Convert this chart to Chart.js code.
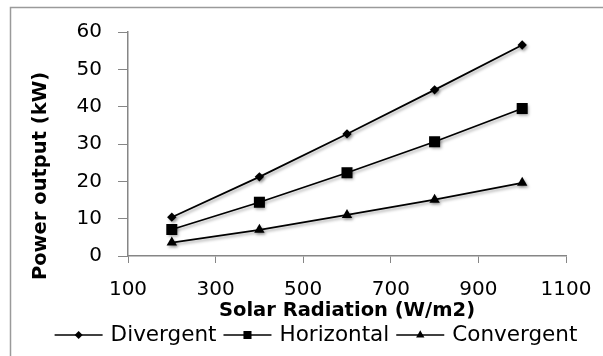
<!DOCTYPE html>
<html>
<head>
<meta charset="utf-8">
<title>Power output vs solar radiation</title>
<script src="https://cdn.jsdelivr.net/npm/chart.js@4.4.0/dist/chart.umd.min.js"></script>
<style>
  html, body { margin: 0; padding: 0; background: #fff; }
  #wrap { width: 603px; height: 356px; }
</style>
</head>
<body>
<div id="wrap"><canvas id="powerChart" width="603" height="356"></canvas></div>
<script>
// --- Data ---
const radiation = [200, 400, 600, 800, 1000];
const divergent = [10.4, 21.2, 32.7, 44.5, 56.5];
const horizontal = [7.1, 14.4, 22.3, 30.6, 39.5];
const convergent = [3.6, 7.0, 11.0, 15.1, 19.6];
const xTicks = [100, 300, 500, 700, 900, 1100];
const yTicks = [0, 10, 20, 30, 40, 50, 60];

const xTitle = 'Solar Radiation (W/m2)';
const yTitle = 'Power output (kW)';

// --- Styling ---
const FONT = 'DejaVu Sans';
const AXIS_GREY = '#868686';
const tickFont = { family: FONT, size: 20 };
const titleFont = { family: FONT, size: 19.5, weight: 'bold' };
const legendFont = `21.5px "${FONT}"`;

const toPoints = (ys) => radiation.map((x, i) => ({ x: x, y: ys[i] }));

function series(label, ys, pointStyle, radius, legendRadius) {
    return {
        label: label,
        data: toPoints(ys),
        showLine: true,
        borderColor: '#000',
        backgroundColor: '#000',
        borderWidth: 1.75,
        pointStyle: pointStyle,
        pointRadius: radius,
        pointHoverRadius: radius,
        pointBorderWidth: 0,
        legendRadius: legendRadius
    };
}

// Outer frame behind the chart
const framePlugin = {
    id: 'frame',
    beforeDraw(chart) {
        const ctx = chart.ctx;
        ctx.save();
        ctx.fillStyle = '#fff';
        ctx.fillRect(0, 0, chart.width, chart.height);
        ctx.strokeStyle = '#9a9a9a';
        ctx.lineWidth = 1.5;
        ctx.beginPath();
        ctx.moveTo(10.5, chart.height);
        ctx.lineTo(10.5, 7.5);
        ctx.lineTo(chart.width, 7.5);
        ctx.stroke();
        ctx.restore();
    }
};

// Soft drop shadow under the lines and markers
const shadowPlugin = {
    id: 'shadow',
    beforeDatasetsDraw(chart) {
        const ctx = chart.ctx;
        ctx.save();
        ctx.shadowColor = 'rgba(0, 0, 0, 0.35)';
        ctx.shadowBlur = 3;
        ctx.shadowOffsetX = 1.5;
        ctx.shadowOffsetY = 2;
    },
    afterDatasetsDraw(chart) {
        chart.ctx.restore();
    }
};

// Rotated y-axis title
const yTitlePlugin = {
    id: 'yTitle',
    afterDraw(chart) {
        const ctx = chart.ctx;
        ctx.save();
        ctx.translate(41, 176);
        ctx.rotate(-Math.PI / 2);
        ctx.font = `bold ${titleFont.size}px "${FONT}"`;
        ctx.fillStyle = '#000';
        ctx.textAlign = 'center';
        ctx.textBaseline = 'middle';
        ctx.fillText(yTitle, 0, 0);
        ctx.restore();
    }
};

// Legend with a line through each marker
const LEGEND_CX = 316;
const LEGEND_Y = 335;
const SYMBOL_W = 48;
const SYMBOL_GAP = 8;
const ITEM_GAP = 7;

const legendPlugin = {
    id: 'lineLegend',
    afterDraw(chart) {
        const ctx = chart.ctx;
        ctx.save();
        ctx.font = legendFont;
        const items = chart.data.datasets.map(ds => ({
            ds: ds,
            w: SYMBOL_W + SYMBOL_GAP + ctx.measureText(ds.label).width
        }));
        const total = items.reduce((s, it) => s + it.w, 0) + ITEM_GAP * (items.length - 1);
        let x = LEGEND_CX - total / 2;
        items.forEach(it => {
            ctx.strokeStyle = '#000';
            ctx.fillStyle = '#000';
            ctx.lineWidth = 1.5;
            ctx.beginPath();
            ctx.moveTo(x, LEGEND_Y);
            ctx.lineTo(x + SYMBOL_W, LEGEND_Y);
            ctx.stroke();
            Chart.helpers.drawPoint(ctx, {
                pointStyle: it.ds.pointStyle,
                radius: it.ds.legendRadius,
                borderWidth: 0,
                rotation: 0
            }, x + SYMBOL_W / 2, LEGEND_Y);
            ctx.textAlign = 'left';
            ctx.textBaseline = 'middle';
            ctx.fillText(it.ds.label, x + SYMBOL_W + SYMBOL_GAP, LEGEND_Y);
            x += it.w + ITEM_GAP;
        });
        ctx.restore();
    }
};

new Chart(document.getElementById('powerChart'), {
    type: 'scatter',
    data: {
        datasets: [
            series('Divergent', divergent, 'rectRot', 4.7, 4),
            series('Horizontal', horizontal, 'rect', 7.8, 5.7),
            series('Convergent', convergent, 'triangle', 6, 4.8)
        ]
    },
    options: {
        responsive: false,
        animation: false,
        layout: { padding: { top: 32, right: 37, bottom: 30, left: 0 } },
        plugins: {
            legend: { display: false },
            tooltip: { enabled: false }
        },
        scales: {
            x: {
                type: 'linear',
                min: 100,
                max: 1100,
                afterBuildTicks: (scale) => { scale.ticks = xTicks.map(v => ({ value: v })); },
                afterFit: (scale) => {
                    scale.height = 70;
                    // edge labels sit inside the layout padding
                    scale.paddingLeft = 0;
                    scale.paddingRight = 0;
                },
                grid: { drawOnChartArea: false, tickLength: 7, color: AXIS_GREY },
                border: { color: AXIS_GREY, width: 1.5 },
                ticks: { font: tickFont, color: '#000', padding: 15, maxRotation: 0, callback: (v) => String(v) },
                title: { display: true, text: xTitle, font: titleFont, color: '#000', padding: { top: 0, bottom: 3 } }
            },
            y: {
                min: 0,
                max: 60,
                afterBuildTicks: (scale) => { scale.ticks = yTicks.map(v => ({ value: v })); },
                afterFit: (scale) => { scale.width = 128; },
                grid: { drawOnChartArea: false, tickLength: 10, color: AXIS_GREY },
                border: { color: AXIS_GREY, width: 1.5 },
                ticks: { font: tickFont, color: '#000', padding: 16 }
            }
        }
    },
    plugins: [framePlugin, shadowPlugin, yTitlePlugin, legendPlugin]
});
</script>
</body>
</html>
